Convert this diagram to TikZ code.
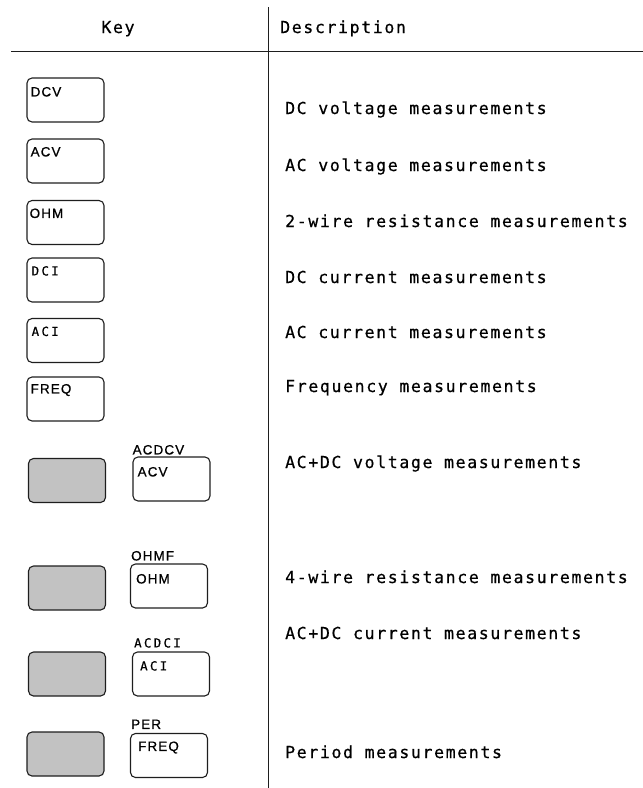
\documentclass[tikz,border=0pt]{standalone}
\usepackage{fontspec}
\usetikzlibrary{calc}
\newfontfamily\descfont[LetterSpace=10,FakeBold=0.6]{DejaVu Sans Mono}
\newfontfamily\keyfont[LetterSpace=8,FakeBold=0.8]{Liberation Sans}
\newfontfamily\keymono[LetterSpace=18,FakeBold=0.6]{DejaVu Sans Mono}
\definecolor{keygray}{RGB}{194,194,194}
\definecolor{ink}{RGB}{30,30,30}
\tikzset{
  keybox/.style={draw=ink, rounded corners=5pt, minimum width=77pt, minimum height=44pt, line width=1.1pt, inner sep=0pt},
  graybox/.style={keybox, fill=keygray},
  desc/.style={anchor=base west, inner sep=0pt, font=\descfont\fontsize{16.5}{18}\selectfont},
  head/.style={inner sep=0pt, font=\descfont\fontsize{16.5}{18}\selectfont},
  klab/.style={anchor=base west, inner sep=0pt, font=\keyfont\fontsize{13.5}{15}\selectfont},
  kmono/.style={anchor=base west, inner sep=0pt, font=\keymono\fontsize{12.5}{15}\selectfont},
  rule/.style={line width=0.9pt, draw=ink}
}
\begin{document}
\begin{tikzpicture}[x=1pt,y=-1pt]
\useasboundingbox (0,0) rectangle (643,788);
% table rules
\coordinate (hl) at (11,51);
\coordinate (hr) at (643,51);
\coordinate (vt) at (268,7);
\coordinate (vb) at (268,788);
\draw[rule] (hl) -- (hr);
\draw[rule] (vt) -- (vb);
% headers
\node[head, anchor=base] (hkey) at (118,33) {Key};
\node[head, anchor=base west] (hdesc) at (280,33) {Description};
% single keys
\node[keybox] (dcv) at (65.5,100) {};
\node[klab] (dcvt) at ($(dcv.north west)+(4,19)$) {DCV};
\node[keybox] (acv) at (65.5,161) {};
\node[klab] (acvt) at ($(acv.north west)+(4,18)$) {ACV};
\node[keybox] (ohm) at (65.5,222.5) {};
\node[klab] (ohmt) at ($(ohm.north west)+(3,18)$) {OHM};
\node[keybox] (dci) at (65.5,280) {};
\node[kmono] (dcit) at ($(dci.north west)+(5,18)$) {DCI};
\node[keybox] (aci) at (65.5,340.5) {};
\node[kmono] (acit) at ($(aci.north west)+(5,18)$) {ACI};
\node[keybox] (freq) at (65.5,399) {};
\node[klab] (freqt) at ($(freq.north west)+(4,17)$) {FREQ};
% shifted keys
\node[graybox] (g1) at (67,480.5) {};
\node[keybox] (acdcv) at (171.5,479) {};
\node[klab] (acdcvl) at ($(acdcv.north west)+(0,-2)$) {ACDCV};
\node[klab] (acdcvt) at ($(acdcv.north west)+(5,20)$) {ACV};
\node[graybox] (g2) at (67,588) {};
\node[keybox] (ohmf) at (169,586) {};
\node[klab] (ohmfl) at ($(ohmf.north west)+(1,-3)$) {OHMF};
\node[klab] (ohmft) at ($(ohmf.north west)+(6,20)$) {OHM};
\node[graybox] (g3) at (67,674) {};
\node[keybox] (acdci) at (171,674) {};
\node[kmono] (acdcil) at ($(acdci.north west)+(2,-4)$) {ACDCI};
\node[kmono] (acdcit) at ($(acdci.north west)+(8,19)$) {ACI};
\node[graybox] (g4) at (65.5,754) {};
\node[keybox] (per) at (169,755.5) {};
\node[klab] (perl) at ($(per.north west)+(1,-4)$) {PER};
\node[klab] (pert) at ($(per.north west)+(8,18)$) {FREQ};
% descriptions
\node[desc] (d1) at (285,114) {DC voltage measurements};
\node[desc] (d2) at (285,171) {AC voltage measurements};
\node[desc] (d3) at (285,227) {2-wire resistance measurements};
\node[desc] (d4) at (285,283) {DC current measurements};
\node[desc] (d5) at (285,338) {AC current measurements};
\node[desc] (d6) at (285,392) {Frequency measurements};
\node[desc] (d7) at (285,468) {AC+DC voltage measurements};
\node[desc] (d8) at (285,583) {4-wire resistance measurements};
\node[desc] (d9) at (285,639) {AC+DC current measurements};
\node[desc] (d10) at (285,758) {Period measurements};
\end{tikzpicture}
\end{document}
